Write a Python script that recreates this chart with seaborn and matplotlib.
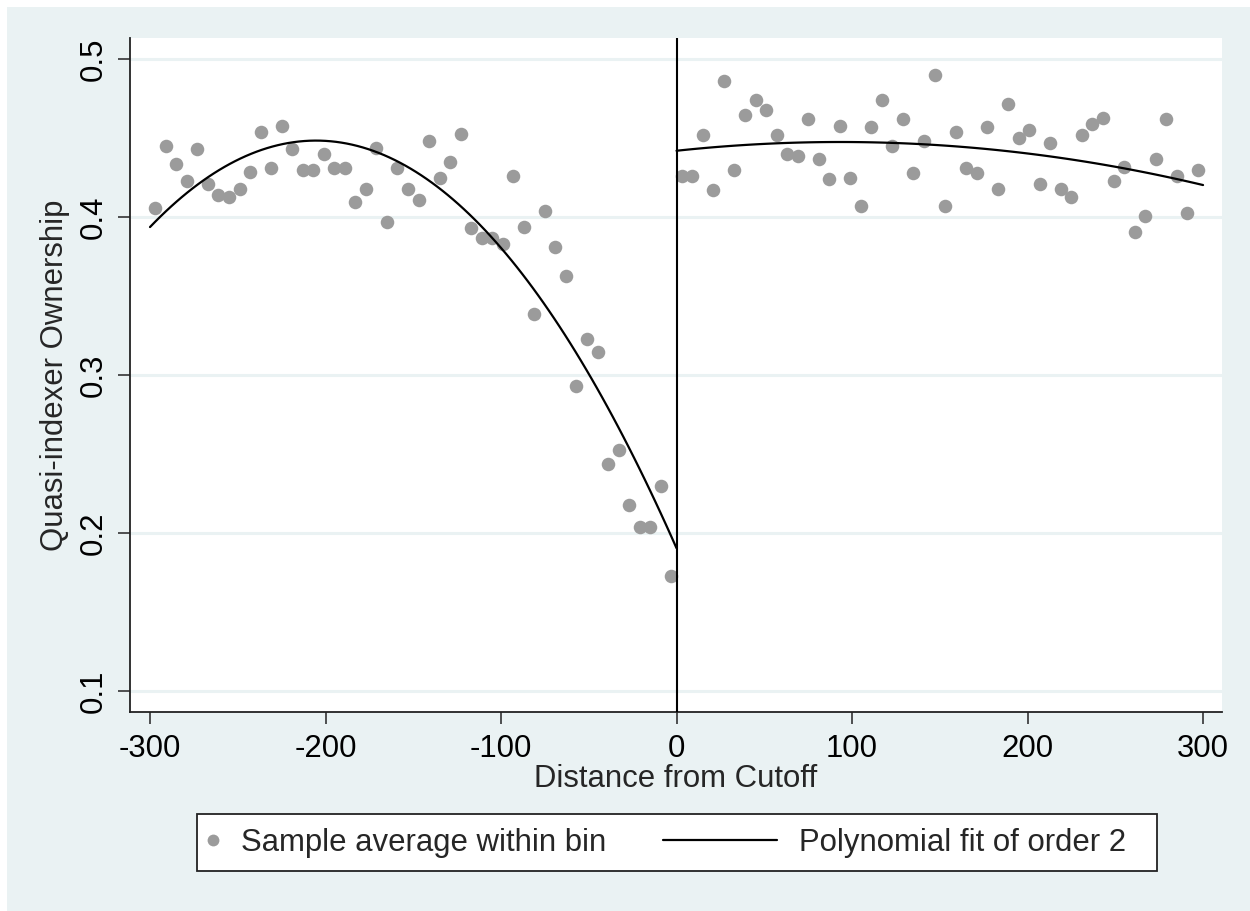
import numpy as np
import pandas as pd
import matplotlib
matplotlib.use("Agg")
import matplotlib.pyplot as plt
from matplotlib.patches import Rectangle
from matplotlib.lines import Line2D
import seaborn as sns

# ---------------- data ----------------
left_x = [-297, -291, -285, -279, -273, -267, -261, -255, -249, -243,
          -237, -231, -225, -219, -213, -207, -201, -195, -189, -183,
          -177, -171, -165, -159, -153, -147, -141, -135, -129, -123,
          -117, -111, -105, -99, -93, -87, -81, -75, -69, -63,
          -57, -51, -45, -39, -33, -27, -21, -15, -9, -3]
left_y = [0.406, 0.445, 0.434, 0.423, 0.443, 0.421, 0.414, 0.413, 0.418, 0.429,
          0.454, 0.431, 0.458, 0.443, 0.430, 0.430, 0.440, 0.431, 0.431, 0.410,
          0.418, 0.444, 0.397, 0.431, 0.418, 0.411, 0.448, 0.425, 0.435, 0.453,
          0.393, 0.387, 0.387, 0.383, 0.426, 0.394, 0.339, 0.404, 0.381, 0.363,
          0.293, 0.323, 0.315, 0.244, 0.253, 0.218, 0.204, 0.204, 0.230, 0.173]
right_x = [3, 9, 15, 21, 27, 33, 39, 45, 51, 57,
           63, 69, 75, 81, 87, 93, 99, 105, 111, 117,
           123, 129, 135, 141, 147, 153, 159, 165, 171, 177,
           183, 189, 195, 201, 207, 213, 219, 225, 231, 237,
           243, 249, 255, 261, 267, 273, 279, 285, 291, 297]
right_y = [0.426, 0.426, 0.452, 0.417, 0.486, 0.430, 0.465, 0.474, 0.468, 0.452,
           0.440, 0.439, 0.462, 0.437, 0.424, 0.458, 0.425, 0.407, 0.457, 0.474,
           0.445, 0.462, 0.428, 0.448, 0.490, 0.407, 0.454, 0.431, 0.428, 0.457,
           0.418, 0.472, 0.450, 0.455, 0.421, 0.447, 0.418, 0.413, 0.452, 0.459,
           0.463, 0.423, 0.432, 0.391, 0.401, 0.437, 0.462, 0.426, 0.403, 0.430]

x_ticks = [-300, -200, -100, 0, 100, 200, 300]
y_ticks = [0.1, 0.2, 0.3, 0.4, 0.5]
y_tick_labels = ["0.1", "0.2", "0.3", "0.4", "0.5"]
x_label = "Distance from Cutoff"
y_label = "Quasi-indexer Ownership"
scatter_label = "Sample average within bin"
fit_label = "Polynomial fit of order 2"

# ---------------- style ----------------
sns.set_style("white")
plt.rcParams["font.family"] = ["Liberation Sans", "DejaVu Sans"]

BG = "#EAF2F3"
PT_COLOR = "#9B9B9B"
FS = 22.4

W, H = 1250, 911
fig = plt.figure(figsize=(W / 100, H / 100), dpi=100)
fig.patch.set_facecolor("white")
fig.add_artist(Rectangle((7 / W, 0), 1 - 7 / W, 1 - 7 / H, transform=fig.transFigure,
                         facecolor=BG, edgecolor="none", zorder=-10))

ax = fig.add_axes([130 / W, 1 - 712 / H, (1222 - 130) / W, (712 - 38) / H])
ax.set_facecolor("white")

df = pd.DataFrame({"x": left_x + right_x, "y": left_y + right_y})
dleft = pd.DataFrame({"x": left_x, "y": left_y})
dright = pd.DataFrame({"x": right_x, "y": right_y})

sns.scatterplot(data=df, x="x", y="y", ax=ax, color=PT_COLOR, s=95,
                linewidth=0, zorder=3, legend=False)

ax.set_xlim(-300, 0)
sns.regplot(data=dleft, x="x", y="y", order=2, ci=None, scatter=False,
            truncate=False, ax=ax, line_kws=dict(color="black", lw=1.6, zorder=4))
ax.set_xlim(0, 300)
sns.regplot(data=dright, x="x", y="y", order=2, ci=None, scatter=False,
            truncate=False, ax=ax, line_kws=dict(color="black", lw=1.6, zorder=4))

ax.axvline(0, color="black", lw=1.5, zorder=5)

ax.set_xlim(-311.4, 310.8)
ax.set_ylim(0.0869, 0.5135)
ax.set_xticks(x_ticks)
ax.set_xticklabels([str(t) for t in x_ticks])
ax.set_yticks(y_ticks)
ax.set_yticklabels(y_tick_labels, rotation=90, va="center")

ax.yaxis.grid(True, color=BG, lw=2.2, zorder=0)
ax.xaxis.grid(False)
ax.set_axisbelow(True)

for s in ["top", "right"]:
    ax.spines[s].set_visible(False)
for s in ["left", "bottom"]:
    ax.spines[s].set_color("#222222")
    ax.spines[s].set_linewidth(1.3)

ax.tick_params(axis="both", which="major", direction="out", length=8.5, width=1.2,
               color="#333333", labelsize=FS, labelcolor="black", pad=7,
               left=True, bottom=True)
ax.set_xlabel(x_label, fontsize=FS, labelpad=0)
ax.set_ylabel(y_label, fontsize=FS, labelpad=6)

# ---------------- legend ----------------
fig.add_artist(Rectangle((197 / W, 1 - 871 / H), 960 / W, 57 / H, transform=fig.transFigure,
                         facecolor="white", edgecolor="#222222", lw=1.3, zorder=1))
yc = 1 - 842.5 / H
h_pt = Line2D([], [], marker="o", color=PT_COLOR, linestyle="none", markersize=8.5,
              markeredgewidth=0)
h_ln = Line2D([], [], color="black", lw=1.6)
leg1 = fig.legend(handles=[h_pt], labels=[scatter_label], loc="center left",
                  bbox_to_anchor=(204 / W, yc), frameon=False, fontsize=FS,
                  handlelength=0.6, handletextpad=0.58, borderpad=0, borderaxespad=0)
leg2 = fig.legend(handles=[h_ln], labels=[fit_label], loc="center left",
                  bbox_to_anchor=(663 / W, yc), frameon=False, fontsize=FS,
                  handlelength=3.68, handletextpad=0.7, borderpad=0, borderaxespad=0)
leg1.set_zorder(5)
leg2.set_zorder(5)

fig.savefig("out.png", dpi=100, facecolor=fig.get_facecolor())
